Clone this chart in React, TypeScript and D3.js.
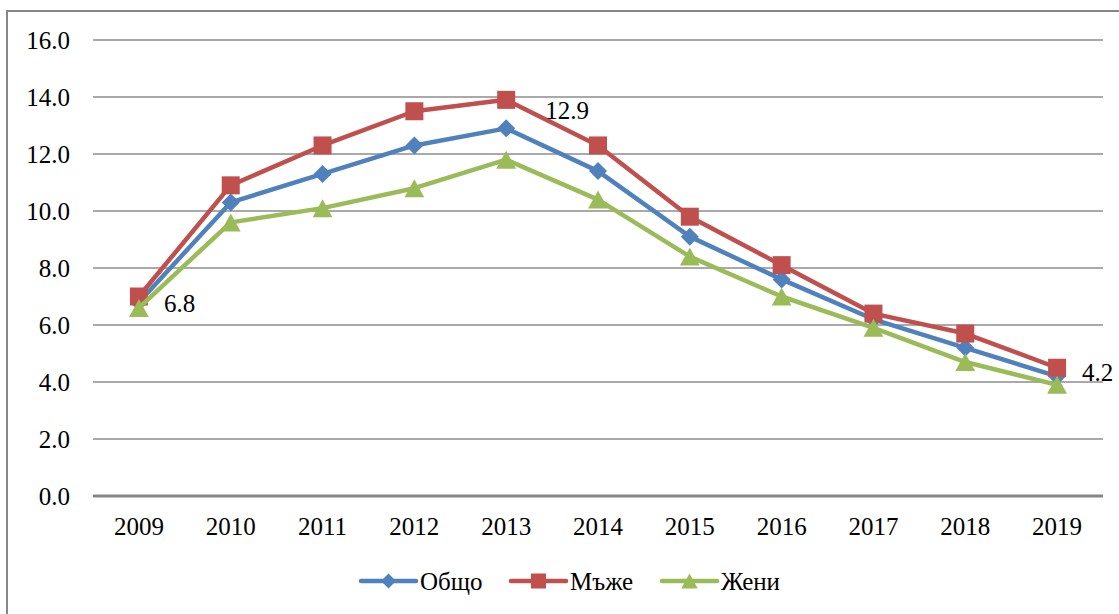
import React from 'react';
import * as d3 from 'd3';

const years = ['2009', '2010', '2011', '2012', '2013', '2014', '2015', '2016', '2017', '2018', '2019'];
const total = [6.8, 10.3, 11.3, 12.3, 12.9, 11.4, 9.1, 7.6, 6.2, 5.2, 4.2];
const men = [7.0, 10.9, 12.3, 13.5, 13.9, 12.3, 9.8, 8.1, 6.4, 5.7, 4.5];
const women = [6.6, 9.6, 10.1, 10.8, 11.8, 10.4, 8.4, 7.0, 5.9, 4.7, 3.9];
const yTicks = [0, 2, 4, 6, 8, 10, 12, 14, 16];
const seriesNames = ['Общо', 'Мъже', 'Жени'];
// labelled points of "Общо": index + offset of the text
const labels = [
  { i: 0, dx: 25, dy: 1 },
  { i: 4, dx: 39, dy: -18 },
  { i: 10, dx: 25, dy: -4 },
];

const W = 1119;
const H = 614;
const FONT = "'Liberation Serif', 'Times New Roman', 'DejaVu Serif', serif";

export default function App() {
  const x = d3.scaleBand().domain(years).range([93, 1103]);
  const y = d3.scaleLinear().domain([0, 16]).range([496, 40]);
  const cx = (i: number) => (x(years[i]) as number) + x.bandwidth() / 2;

  const line = d3.line<number>()
    .x((_, i) => cx(i))
    .y(v => y(v));

  const series = [
    { name: seriesNames[0], values: total, color: '#4F81BD', shape: 'diamond' },
    { name: seriesNames[1], values: men, color: '#C0504D', shape: 'square' },
    { name: seriesNames[2], values: women, color: '#9BBB59', shape: 'triangle' },
  ];

  const marker = (shape: string, px: number, py: number, color: string, s: number) => {
    const h = s / 2;
    if (shape === 'diamond') {
      return <path d={`M${px},${py - h}L${px + h},${py}L${px},${py + h}L${px - h},${py}Z`} fill={color} />;
    }
    if (shape === 'square') {
      return <rect x={px - h} y={py - h} width={s} height={s} fill={color} />;
    }
    return <path d={`M${px},${py - h}L${px + h * 1.1},${py + h}L${px - h * 1.1},${py + h}Z`} fill={color} />;
  };

  const legendX = [361, 511, 662];
  const txt = { fontFamily: FONT, fontSize: 25 };

  return (
    <svg width={W} height={H} style={{ position: 'absolute', left: 0, top: 0, background: '#fff', fontFamily: FONT }}>
      <rect x={7} y={11} width={W + 10} height={H + 10} fill="#fff" stroke="#868686" strokeWidth={2} />

      {yTicks.map(t => (
        <g key={t}>
          <line x1={93} x2={1103} y1={y(t)} y2={y(t)} stroke={t === 0 ? '#868686' : '#8c8c8c'} strokeWidth={t === 0 ? 3 : 1.6} />
          <text x={70} y={y(t)} dy="0.35em" textAnchor="end" style={txt} fill="#000">{t.toFixed(1)}</text>
        </g>
      ))}

      {years.map((yr, i) => (
        <text key={yr} x={cx(i)} y={535} textAnchor="middle" style={txt} fill="#000">{yr}</text>
      ))}

      {series.map(s => (
        <g key={s.name}>
          <path d={line(s.values) || ''} fill="none" stroke={s.color} strokeWidth={4.5} strokeLinejoin="round" />
          {s.values.map((v, i) => (
            <g key={i}>{marker(s.shape, cx(i), y(v), s.color, 18)}</g>
          ))}
        </g>
      ))}

      {labels.map(l => (
        <text key={l.i} x={cx(l.i) + l.dx} y={y(total[l.i]) + l.dy} dy="0.35em" style={txt} fill="#000">
          {total[l.i].toFixed(1)}
        </text>
      ))}

      {series.map((s, k) => (
        <g key={s.name}>
          <line x1={legendX[k]} x2={legendX[k] + 55} y1={581} y2={581} stroke={s.color} strokeWidth={4.5} strokeLinecap="round" />
          {marker(s.shape, legendX[k] + 27.5, 581, s.color, 15)}
          <text x={legendX[k] + 59} y={590} style={txt} fill="#000">{s.name}</text>
        </g>
      ))}
    </svg>
  );
}
